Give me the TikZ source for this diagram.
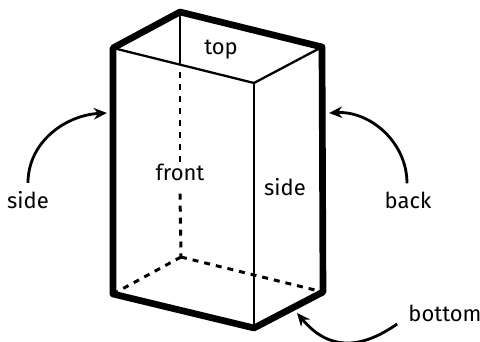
\documentclass[tikz,border=0pt]{standalone}
\usepackage{fontspec}
\setmainfont{Fira Sans}
\usetikzlibrary{arrows.meta,positioning}
\tikzset{
  boxlabel/.style={font=\fontsize{12.5}{14}\selectfont, inner sep=0pt},
  heavyedge/.style={line width=3.8pt, line join=round, line cap=round},
  thinedge/.style={line width=1.3pt},
  hiddenedge/.style={line width=1.7pt, dash pattern=on 3.4pt off 3.4pt},
  callout/.style={-{Stealth[length=7.5pt, width=6.5pt]}, line width=1.6pt}
}

\begin{document}
\begin{tikzpicture}
  \useasboundingbox (0,0) rectangle (9.6,6.84);

  % Corners of the box
  \coordinate (topback) at (3.6,6.6);
  \coordinate (topleft) at (2.26,5.88);
  \coordinate (topright) at (6.44,5.9);
  \coordinate (topfront) at (5.08,5.18);
  \coordinate (botback) at (3.62,1.7);
  \coordinate (botleft) at (2.26,0.96);
  \coordinate (botright) at (6.46,1.0);
  \coordinate (botfront) at (5.08,0.28);
  \coordinate (midtop) at (3.6,5.53);

  % Labels
  \node[boxlabel] (toplabel) at (4.42,5.84) {top};
  \node[boxlabel] (frontlabel) at (3.6,3.4) {front};
  \node[boxlabel] (sidelabel) at (5.7,3.1) {side};
  \node[boxlabel] (leftlabel) at (0.56,2.84) {side};
  \node[boxlabel] (backlabel) at (8.16,2.84) {back};
  \node[boxlabel] (bottomlabel) at (8.9,0.58) {bottom};

  % Hidden edges
  \draw[hiddenedge] (midtop) ++(0,-0.14) -- (frontlabel.north);
  \draw[hiddenedge] (frontlabel.south) ++(0,-0.26) -- (botback);
  \draw[hiddenedge] (botback) -- (botleft);
  \draw[hiddenedge] (botback) -- (botright);

  % Thin edges
  \draw[thinedge] (topback) -- (midtop);
  \draw[thinedge] (topleft) -- (topfront) -- (topright);
  \draw[thinedge] (topfront) -- (botfront);

  % Heavy outline
  \draw[heavyedge] (topleft) -- (topback) -- (topright) -- (botright) -- (botfront) -- (botleft) -- cycle;

  % Arrow ends
  \coordinate (lefttip) at (2.14,4.58);
  \coordinate (righttip) at (6.58,4.58);
  \coordinate (bottomtip) at (5.94,0.58);

  % Arrows
  \draw[callout] (leftlabel.north) ++(0,0.16) to[out=90, in=183] (lefttip);
  \draw[callout] (backlabel.north) ++(-0.02,0.16) to[out=90, in=3] (righttip);
  \draw[callout] (bottomlabel.west) ++(-0.22,-0.22) to[out=215, in=-50, looseness=1.2] (bottomtip);
\end{tikzpicture}
\end{document}
